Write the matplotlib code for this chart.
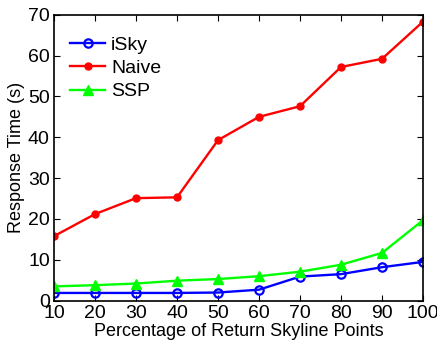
import matplotlib
matplotlib.use('Agg')
import matplotlib.pyplot as plt

# Percentage of return skyline points
x = [10, 20, 30, 40, 50, 60, 70, 80, 90, 100]
isky = [1.9, 1.9, 1.9, 1.9, 2.0, 2.7, 5.9, 6.5, 8.2, 9.5]
naive = [15.8, 21.2, 25.1, 25.3, 39.3, 45.0, 47.6, 57.2, 59.2, 68.3]
ssp = [3.5, 3.8, 4.2, 4.9, 5.3, 6.0, 7.1, 8.8, 11.7, 19.7]

plt.rcParams['font.family'] = ['Liberation Sans', 'DejaVu Sans']

fig = plt.figure(figsize=(4.37, 3.45), dpi=100)
ax = fig.add_axes([0.1236, 0.1284, 0.8444, 0.829])

ax.plot(x, isky, color='#0000ff', lw=1.7, marker='o', ms=6, mfc='none',
        mew=1.6, label='iSky')
ax.plot(x, naive, color='#ff0000', lw=1.7, marker='o', ms=5, mfc='#ff0000',
        label='Naive')
ax.plot(x, ssp, color='#00ff00', lw=1.7, marker='^', ms=7, mfc='#00ff00',
        label='SSP')

ax.set_xlim(10, 100)
ax.set_ylim(0, 70)
ax.set_xticks(x)
ax.set_yticks(range(0, 71, 10))
ax.tick_params(direction='in', top=True, right=True, labelsize=14, length=4,
               width=0.8, pad=3)
for s in ax.spines.values():
    s.set_linewidth(1.2)

ax.set_xlabel('Percentage of Return Skyline Points', fontsize=13, labelpad=1)
ax.set_ylabel('Response Time (s)', fontsize=13, labelpad=2)

ax.legend(loc='upper left', bbox_to_anchor=(0.023, 0.953), borderaxespad=0,
          frameon=False, fontsize=14, handlelength=1.8,
          handletextpad=0.3, labelspacing=0.3)

fig.savefig('out.png', dpi=100)
